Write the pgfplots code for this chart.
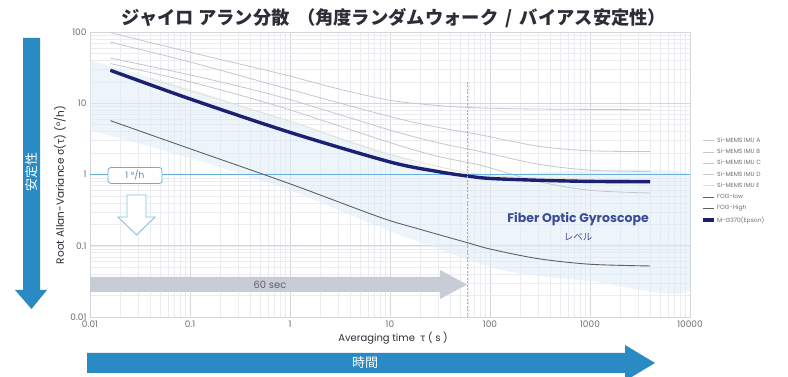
\documentclass[border=0pt]{standalone}
\usepackage{fontspec}
\setmainfont{Poppins}
\newfontfamily\jp{Noto Sans CJK JP}
\usepackage{pgfplots}
\pgfplotsset{compat=1.18}
\definecolor{memsc}{RGB}{198,198,204}
\definecolor{memse}{RGB}{232,222,200}
\definecolor{navy}{RGB}{28,32,112}
\definecolor{fogc}{RGB}{95,95,102}
\definecolor{onec}{RGB}{100,175,220}
\definecolor{bandc}{RGB}{222,236,248}
\definecolor{bluearr}{RGB}{42,138,195}
\definecolor{greyarr}{RGB}{200,204,214}
\definecolor{titlec}{RGB}{45,45,55}
\definecolor{ticklc}{RGB}{110,110,115}
\definecolor{fogtext}{RGB}{60,75,150}
\definecolor{gridmaj}{RGB}{212,214,220}
\definecolor{gridmin}{RGB}{234,236,240}
\begin{document}
\begin{tikzpicture}
\path[use as bounding box] (0pt,0pt) rectangle (788pt,377pt);
% left vertical arrow
\fill[bluearr] (23pt,339pt) -- (40pt,339pt) -- (40pt,87pt) -- (47pt,87pt) -- (31.5pt,68pt) -- (15pt,87pt) -- (23pt,87pt) -- cycle;
\node[rotate=90, text=white, font=\jp\fontsize{13}{13}\selectfont] at (31.5pt,205pt) {安定性};
% bottom arrow
\fill[bluearr] (87pt,24pt) -- (625pt,24pt) -- (625pt,32pt) -- (655pt,14pt) -- (625pt,-4pt) -- (625pt,4pt) -- (87pt,4pt) -- cycle;
\node[text=white, font=\jp\fontsize{13}{13}\selectfont] at (365pt,14pt) {時間};
\begin{axis}[
  at={(90pt,60pt)}, anchor=south west,
  scale only axis, width=600pt, height=285pt,
  xmode=log, ymode=log,
  xmin=0.01, xmax=10000, ymin=0.01, ymax=100,
  xtick={0.01,0.1,1,10,100,1000,10000},
  xticklabels={0.01,0.1,1,10,100,1000,10000},
  ytick={0.01,0.1,1,10,100},
  yticklabels={0.01,0.1,1,10,100},
  /pgf/number format/assume math mode=true,
  tick label style={font=\fontsize{9}{9}\selectfont, text=ticklc},
  grid=both,
  major grid style={gridmaj, line width=0.5pt},
  minor grid style={gridmin, line width=0.4pt},
  axis line style={gridmaj},
  tick style={draw=none},
  legend style={at={(1.016,0.64)}, anchor=north west, draw=none, fill=none,
    font=\fontsize{6}{6.5}\selectfont, text=ticklc, row sep=1.2pt,
    inner sep=1pt},
  legend cell align=left,
  legend image code/.code={\draw[#1] (0pt,0pt) -- (11pt,0pt);},
]
% FOG band (upper edge then lower edge reversed)
\addplot[fill=bandc, fill opacity=0.55, draw=none, forget plot, smooth, tension=0.4] coordinates {(0.01,40) (0.1,16) (1,5.5) (10,2) (60,1) (10000,1) (10000,0.024) (1000,0.032) (126,0.046) (10,0.16) (1,0.6) (0.1,1.7) (0.01,4.2)} -- cycle;
% MEMS lines
\addplot[memsc, line width=0.8pt, smooth] coordinates {(0.016,98) (0.1,52) (0.8,26) (3,16) (10,11) (30,9.3) (80,8.6) (300,8.3) (4000,8.1)};
\addlegendentry{Si-MEMS IMU A}
\addplot[memsc, line width=0.8pt, smooth] coordinates {(0.016,72) (0.1,38) (0.8,17) (10,6.5) (30,4.6) (80,3.6) (300,2.5) (1000,2.15) (4000,2.1)};
\addlegendentry{Si-MEMS IMU B}
\addplot[memsc, line width=0.8pt, smooth] coordinates {(0.016,43) (0.1,25) (0.8,12.3) (10,4.2) (30,2.8) (80,2.1) (300,1.4) (1000,1.15) (4000,1.1)};
\addlegendentry{Si-MEMS IMU C}
\addplot[memsc, line width=0.8pt, smooth] coordinates {(0.016,36) (0.1,20) (0.8,8.9) (10,2.8) (30,1.8) (80,1.35) (300,0.8) (1000,0.6) (4000,0.55)};
\addlegendentry{Si-MEMS IMU D}
\addplot[memse, line width=0.8pt, smooth] coordinates {(0.04,22) (0.1,15) (1,5.6) (3.5,3.05) (10,1.9) (80,1.0) (1000,0.86) (4000,0.85)};
\addlegendentry{Si-MEMS IMU E}
% 1 deg/h line
\addplot[onec, line width=1pt, forget plot] coordinates {(0.01,1) (10000,1)};
% FOG
\addplot[fogc, line width=0.9pt, smooth] coordinates {(0.016,5.7) (0.1,2.3) (1,0.74) (8,0.25) (20,0.17) (60,0.11) (100,0.09) (300,0.066) (1000,0.055) (4000,0.052)};
\addlegendentry{FOG-low}
\addplot[fogc, line width=0.9pt, smooth] coordinates {(0.016,29) (0.1,11.5) (1,3.9) (10,1.5) (30,1.1) (60,0.95) (100,0.88) (300,0.83) (1000,0.8) (4000,0.79)};
\addlegendentry{FOG-High}
\addplot[navy, line width=3.4pt, smooth] coordinates {(0.016,29) (0.1,11.5) (1,3.9) (10,1.5) (30,1.1) (60,0.95) (100,0.88) (300,0.83) (1000,0.8) (4000,0.79)};
\addlegendentry{M-G370(Epson)}
% 60 s dashed line
\draw[onec!85!white, line width=0.8pt, dash pattern=on 2pt off 1.5pt] (axis cs:60,20) -- (axis cs:60,0.01);
\end{axis}
% grey 60 sec arrow
\fill[greyarr] (90pt,100pt) -- (440pt,100pt) -- (440pt,107pt) -- (467pt,92.5pt) -- (440pt,78pt) -- (440pt,85pt) -- (90pt,85pt) -- cycle;
\node[text=fogc, font=\fontsize{10}{10}\selectfont] at (270pt,92.5pt) {60 sec};
% 1 deg/h box
\node[draw=onec, fill=white, rounded corners=3pt, line width=0.8pt, minimum width=54pt, minimum height=16pt, inner sep=0pt, text=onec!80!black, font=\fontsize{9}{9}\selectfont] at (135pt,201.5pt) {1 °/h};
% hollow arrow
\draw[onec!80!white, fill=white, line width=0.9pt] (127pt,182pt) -- (146pt,182pt) -- (146pt,160pt) -- (155pt,160pt) -- (136.5pt,142pt) -- (118pt,160pt) -- (127pt,160pt) -- cycle;
% FOG text
\node[text=fogtext, font=\fontsize{12.5}{13}\selectfont\bfseries] at (578pt,158pt) {Fiber Optic Gyroscope};
\node[text=fogtext, font=\jp\fontsize{9.5}{10}\selectfont] at (578pt,140pt) {レベル};
% title
\node[text=titlec, font=\jp\bfseries\fontsize{18.3}{19}\selectfont] at (394pt,359pt) {ジャイロ アラン分散\hspace{0.4em}（角度ランダムウォーク \,/\, バイアス安定性）};
% axis labels
\node[rotate=90, text=titlec, font=\fontsize{10.5}{11}\selectfont] at (60pt,192pt) {Root Allan-Variance {\jp σ}({\jp τ}) (°/h)};
\node[text=titlec, font=\fontsize{10}{10}\selectfont] at (393pt,39pt) {Averaging time \ {\jp τ} ( s )};
\end{tikzpicture}
\end{document}
